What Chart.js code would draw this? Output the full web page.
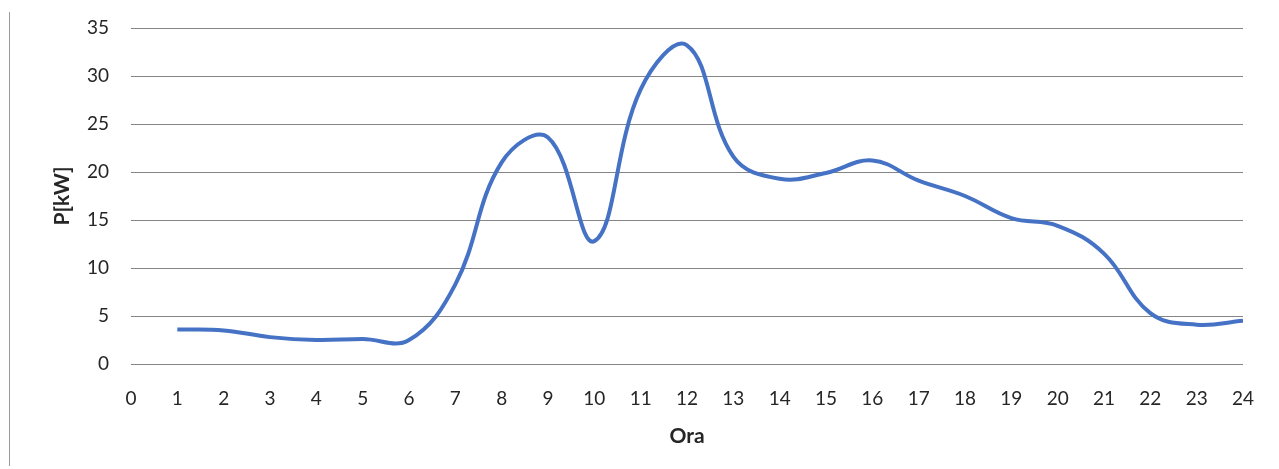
<!DOCTYPE html>
<html>
<head>
<meta charset="utf-8">
<style>
    html, body { margin: 0; padding: 0; background: #fff; }
    #wrap { position: relative; width: 1279px; height: 469px; }
    #edge { position: absolute; left: 9px; top: 12px; width: 1px; height: 454px; background: #9a9a9a; }
</style>
<script src="https://cdn.jsdelivr.net/npm/chart.js@4/dist/chart.umd.min.js"></script>
</head>
<body>
<div id="wrap">
    <div id="edge"></div>
    <canvas id="chart" width="1279" height="469"></canvas>
</div>
<script>
// ore del giorno e potenza assorbita
var hours = [1, 2, 3, 4, 5, 6, 7, 8, 9, 10, 11, 12, 13, 14, 15, 16, 17, 18, 19, 20, 21, 22, 23, 24];
var power = [3.6, 3.5, 2.8, 2.5, 2.6, 2.5, 8.3, 21.0, 23.6, 12.8, 28.6, 33.2, 21.6, 19.3, 19.9, 21.2, 19.1, 17.5, 15.2, 14.4, 11.5, 5.3, 4.1, 4.5];
var xTitle = 'Ora';
var yTitle = 'P[kW]';

var points = hours.map(function (h, i) {
    return {x: h, y: power[i]};
});

var fontFamily = 'Lato, "Open Sans", sans-serif';

new Chart(document.getElementById('chart').getContext('2d'), {
    type: 'line',
    data: {
        datasets: [{
            data: points,
            borderColor: '#4572c4',
            borderWidth: 4,
            pointRadius: 0,
            tension: 0.4,
            fill: false
        }]
    },
    options: {
        responsive: false,
        animation: false,
        layout: {padding: {left: 0, top: 28, right: 36, bottom: 0}},
        plugins: {
            legend: {display: false},
            tooltip: {enabled: false}
        },
        scales: {
            x: {
                type: 'linear',
                min: 0,
                max: 24,
                grid: {display: false},
                border: {display: false},
                ticks: {
                    stepSize: 1,
                    maxRotation: 0,
                    autoSkip: false,
                    padding: 15,
                    color: '#262626',
                    font: {family: fontFamily, size: 19}
                },
                title: {
                    display: true,
                    text: xTitle,
                    color: '#262626',
                    font: {family: fontFamily, size: 21, weight: 'bold'},
                    padding: {top: 0, bottom: 20}
                },
                afterFit: function (scale) { scale.height = 105; }
            },
            y: {
                min: 0,
                max: 35,
                grid: {color: '#858585', lineWidth: 1, tickLength: 18, tickColor: 'rgba(0,0,0,0)'},
                border: {display: false},
                ticks: {
                    stepSize: 5,
                    padding: 4,
                    color: '#262626',
                    font: {family: fontFamily, size: 19}
                },
                title: {
                    display: true,
                    text: yTitle,
                    color: '#262626',
                    font: {family: fontFamily, size: 21, weight: 'bold'},
                    padding: {top: 50, bottom: 0}
                },
                afterFit: function (scale) { scale.width = 131; }
            }
        }
    }
});
</script>
</body>
</html>
